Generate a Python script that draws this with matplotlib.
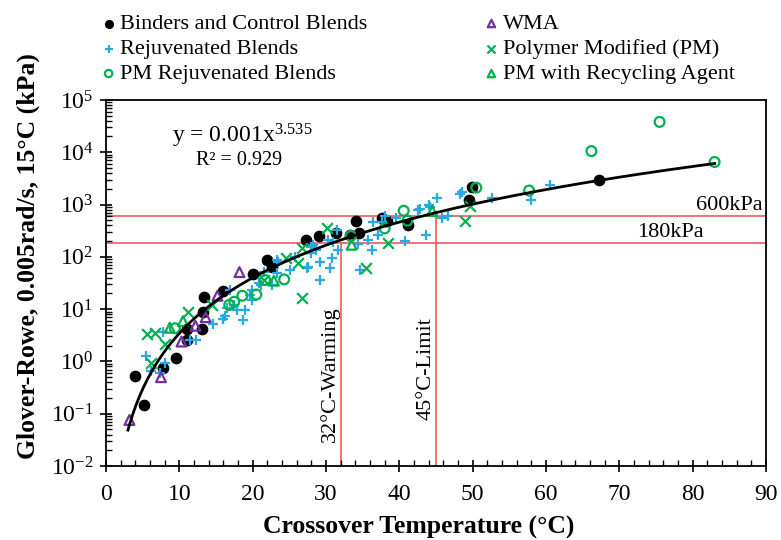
import numpy as np
import matplotlib
matplotlib.use("Agg")
import matplotlib.pyplot as plt
from matplotlib.ticker import LogLocator, MultipleLocator, LogFormatterSciNotation, NullFormatter

plt.rcParams['font.family'] = ['Liberation Serif', 'DejaVu Serif']
plt.rcParams['mathtext.fontset'] = 'custom'
plt.rcParams['mathtext.rm'] = 'Liberation Serif'
plt.rcParams['mathtext.it'] = 'Liberation Serif:italic'
plt.rcParams['mathtext.bf'] = 'Liberation Serif:bold'

# ---- data ----
binders_x = [3.9, 5.2, 7.8, 9.6, 11.0, 11.0, 13.1, 13.2, 13.4, 16.0, 20.0, 21.9, 22.6, 27.3, 29.1,
             31.4, 33.3, 34.1, 34.5, 37.7, 38.3, 41.2, 49.5, 49.9, 67.2]
binders_y = [0.53, 0.15, 0.74, 1.15, 2.6, 4.2, 4.2, 8.9, 16.8, 22.5, 46, 87, 65, 210, 250,
             290, 263, 490, 282, 550, 490, 410, 1220, 2190, 2950]

wma_x = [3.2, 7.5, 10.3, 12.2, 13.6, 15.2, 18.2]
wma_y = [0.076, 0.5, 2.4, 4.8, 7.0, 18, 51]

rejuv_x = [5.4, 6.1, 7.3, 8.1, 7.8, 11.5, 12.3, 14.6, 16.0, 16.2, 16.5, 17.4, 17.8, 18.7, 19.0,
           19.6, 19.9, 19.9, 16.9, 20.8, 21.2, 21.5, 22.6, 23.3, 23.3, 23.5, 25.1, 25.8, 27.4,
           27.6, 28.0, 28.0, 28.3, 28.7, 29.2, 29.2, 30.3, 30.5, 30.8, 31.0, 31.5, 31.7, 34.4,
           34.6, 35.8, 36.3, 36.4, 37.1, 37.7, 38.0, 39.6, 40.8, 42.6, 42.8, 43.7, 44.0, 44.2,
           45.1, 45.8, 46.7, 48.3, 48.5, 52.6, 57.9, 60.6]
rejuv_y = [1.25, 0.66, 0.6, 0.92, 3.7, 2.6, 2.6, 5.3, 6.6, 7.4, 10.4, 12, 9.6, 6.2, 9.6,
           19, 15, 23, 23, 31, 29, 52, 29, 48, 87, 78, 56, 100, 60,
           65, 117, 155, 170, 135, 80, 36, 210, 60, 93, 195, 320, 135, 176,
           56, 210, 135, 470, 263, 470, 590, 550, 200, 785, 810, 263, 980, 910,
           1320, 550, 590, 1620, 1700, 1320, 1200, 2350]

pm_x = [5.6, 6.7, 6.2, 8.1, 11.2, 14.5, 21.5, 24.5, 26.2, 26.7, 26.7, 30.1, 35.5, 38.4, 49.0, 49.6]
pm_y = [3.3, 3.5, 0.95, 2.2, 8.7, 12, 36, 94, 75, 146, 16, 360, 60, 182, 480, 920]

pmrej_x = [9.4, 16.8, 17.5, 18.6, 20.5, 21.7, 24.3, 33.4, 38.0, 40.6, 41.1, 50.5, 57.7, 66.2, 75.5, 83.0]
pmrej_y = [4.3, 12, 13.8, 18, 19, 36, 37, 250, 350, 760, 490, 2100, 1850, 10500, 38000, 6500]

pmra_x = [8.7, 10.5, 22.9, 33.5, 44.5]
pmra_y = [4.4, 5.9, 35, 170, 750]

fit_a, fit_b = 0.001, 3.535
fit_xmin, fit_xmax = 3.0, 83.0
limits_y = [600, 180]
limits_x = [32, 45]

# ---- figure ----
fig = plt.figure(figsize=(7.81, 5.4), dpi=100)
ax = fig.add_axes([0.1357, 0.137, 0.845, 0.678])

BLUE = '#29A9E1'
GREEN = '#00B050'
PURPLE = '#7030A0'
RED = '#EE5A5A'

# limit lines
for yv in limits_y:
    ax.axhline(yv, color=RED, lw=1.2, zorder=1)
ax.plot([limits_x[0]] * 2, [1e-2, limits_y[1]], color=RED, lw=1.2, zorder=1)
ax.plot([limits_x[1]] * 2, [1e-2, limits_y[0]], color=RED, lw=1.2, zorder=1)

h1 = ax.scatter(binders_x, binders_y, s=55, color='black', marker='o', zorder=3,
                label='Binders and Control Blends')
h2 = ax.scatter(rejuv_x, rejuv_y, s=60, color=BLUE, marker='+', linewidths=1.6, zorder=3,
                label='Rejuvenated Blends')
h3 = ax.scatter(pmrej_x, pmrej_y, s=50, facecolors='none', edgecolors=GREEN, marker='o',
                linewidths=1.6, zorder=3, label='PM Rejuvenated Blends')
h4 = ax.scatter(wma_x, wma_y, s=50, facecolors='none', edgecolors=PURPLE, marker='^',
                linewidths=1.6, zorder=3, label='WMA')
h5 = ax.scatter(pm_x, pm_y, s=60, color=GREEN, marker='x', linewidths=1.6, zorder=3,
                label='Polymer Modified (PM)')
h6 = ax.scatter(pmra_x, pmra_y, s=50, facecolors='none', edgecolors=GREEN, marker='^',
                linewidths=1.6, zorder=3, label='PM with Recycling Agent')

xf = np.linspace(fit_xmin, fit_xmax, 300)
ax.plot(xf, fit_a * xf ** fit_b, color='black', lw=2.0, zorder=4)

ax.set_yscale('log')
ax.set_xlim(0, 90)
ax.set_ylim(1e-2, 1e5)
ax.xaxis.set_major_locator(MultipleLocator(10))
ax.xaxis.set_minor_locator(MultipleLocator(2))
ax.yaxis.set_major_locator(LogLocator(base=10, numticks=10))
ax.yaxis.set_minor_locator(LogLocator(base=10, subs=np.arange(2, 10), numticks=20))
ax.yaxis.set_major_formatter(LogFormatterSciNotation())
ax.yaxis.set_minor_formatter(NullFormatter())
ax.tick_params(which='major', direction='inout', length=8, width=1.2, labelsize=17, pad=5)
ax.tick_params(axis='x', which='major', pad=9)
ax.tick_params(which='minor', direction='in', length=4, width=1.0)
for sp in ax.spines.values():
    sp.set_linewidth(1.3)

ax.set_xlabel('Crossover Temperature (°C)', fontsize=18.5, fontweight='bold')
ax.set_ylabel('Glover-Rowe, 0.005rad/s, 15°C (kPa)', fontsize=18.5, fontweight='bold')
ax.xaxis.set_label_coords(0.474, -0.136)
ax.yaxis.set_label_coords(-0.100, 0.574)

ax.text(9.0, 10**4.31, r'y = 0.001x$^{3.535}$', fontsize=17, va='center', ha='left')
ax.text(12.3, 10**3.85, 'R² = 0.929', fontsize=14.5, va='center', ha='left')

ax.text(89.5, 640, '600kPa', fontsize=16, ha='right', va='bottom')
ax.text(81.5, 195, '180kPa', fontsize=16, ha='right', va='bottom')
ax.text(30.5, 0.029, '32°C-Warming', fontsize=16, rotation=90, ha='center', va='bottom')
ax.text(43.6, 0.076, '45°C-Limit', fontsize=16, rotation=90, ha='center', va='bottom')

leg = ax.legend(handles=[h1, h2, h3, h4, h5, h6], ncol=2, loc='lower left',
                bbox_to_anchor=(-0.028, 1.0), frameon=False, fontsize=16,
                handlelength=0.5, handletextpad=0.25, columnspacing=5.35,
                labelspacing=0.2, markerscale=0.75, borderaxespad=0.3)

fig.savefig('out.png', dpi=100)
